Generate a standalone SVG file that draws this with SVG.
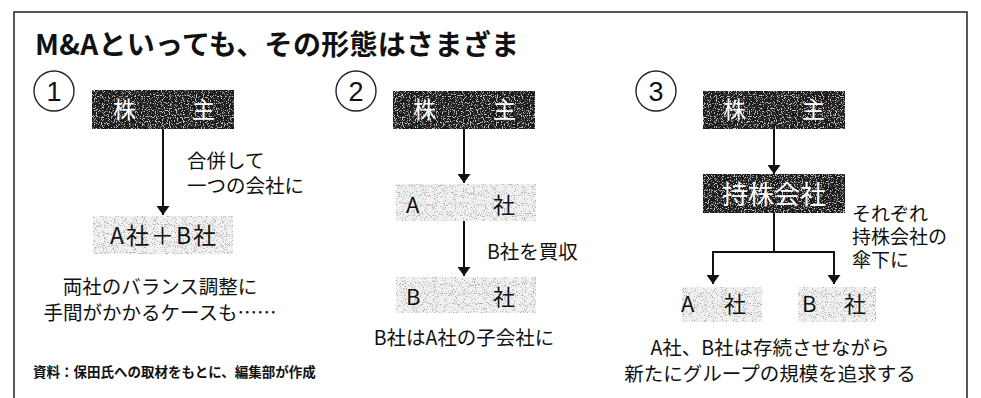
<svg xmlns="http://www.w3.org/2000/svg" width="981" height="398" viewBox="0 0 981 398">
<defs>
<style>
text{font-family:"Noto Sans CJK JP","Noto Sans",sans-serif;fill:#111}
.t{font-size:28px;font-weight:700}
.lb{font-size:19.5px}
.sl{font-size:19px}
.nb{font-size:23px;fill:#fff}
.bx{font-size:22px}
.note{font-size:13.5px;font-weight:700}
.num{font-family:"Liberation Sans",sans-serif;font-size:27px}
.dark{fill:#1b1b1b}
.light{fill:#f1f1f1}
.ln{stroke:#111;stroke-width:2;fill:none}
</style>
<filter id="speckD" x="0" y="0" width="1" height="1">
<feTurbulence type="fractalNoise" baseFrequency="0.85" numOctaves="1" seed="4" result="n"/>
<feColorMatrix in="n" type="matrix" values="0 0 0 0 0.55 0 0 0 0 0.55 0 0 0 0 0.55 -9 0 0 0 4.2" result="d"/>
<feComposite in="d" in2="SourceGraphic" operator="in"/>
</filter>
<filter id="speckL" x="0" y="0" width="1" height="1">
<feTurbulence type="fractalNoise" baseFrequency="0.9" numOctaves="1" seed="7" result="n"/>
<feColorMatrix in="n" type="matrix" values="0 0 0 0 0.4 0 0 0 0 0.4 0 0 0 0 0.4 -9 0 0 0 3.9" result="d"/>
<feComposite in="d" in2="SourceGraphic" operator="in"/>
</filter>
<marker id="ah" viewBox="0 0 9 13" refX="9" refY="6.5" markerWidth="9" markerHeight="13" markerUnits="userSpaceOnUse" orient="auto">
<path d="M0,0 L9,6.5 L0,13 Z" fill="#111"/>
</marker>
</defs>
<rect width="981" height="398" fill="#fff"/>
<path d="M14,398 V12 H967 V398" fill="none" stroke="#222" stroke-width="1.5"/>
<text class="t" x="35" y="55" textLength="484" lengthAdjust="spacing">M&amp;Aといっても、その形態はさまざま</text>

<g id="connectors">
<line class="ln" x1="163" y1="129" x2="163" y2="215" marker-end="url(#ah)"/>
<line class="ln" x1="464" y1="129" x2="464" y2="183" marker-end="url(#ah)"/>
<line class="ln" x1="464" y1="220" x2="464" y2="276" marker-end="url(#ah)"/>
<line class="ln" x1="774" y1="129" x2="774" y2="174" marker-end="url(#ah)"/>
<path class="ln" d="M774,213 V252 M713,252 H834"/>
<line class="ln" x1="713" y1="251" x2="713" y2="284" marker-end="url(#ah)"/>
<line class="ln" x1="834" y1="251" x2="834" y2="284" marker-end="url(#ah)"/>
</g>

<g id="num1"><circle cx="54" cy="91" r="20" fill="none" stroke="#222" stroke-width="1.4"/><text class="num" x="54" y="101" text-anchor="middle">1</text></g>
<g id="num2"><circle cx="356" cy="91" r="20" fill="none" stroke="#222" stroke-width="1.4"/><text class="num" x="356" y="101" text-anchor="middle">2</text></g>
<g id="num3"><circle cx="656" cy="91" r="20" fill="none" stroke="#222" stroke-width="1.4"/><text class="num" x="656" y="101" text-anchor="middle">3</text></g>

<g id="p1-shareholder">
<rect class="dark" x="92" y="90" width="142" height="39"/>
<rect x="92" y="90" width="142" height="39" fill="#fff" filter="url(#speckD)"/>
<text class="nb" x="113" y="118">株</text><text class="nb" x="192" y="118">主</text>
</g>
<g id="p1-label"><text class="lb" x="187" y="168">合併して</text><text class="lb" x="187" y="193">一つの会社に</text></g>
<g id="p1-merged">
<rect class="light" x="93" y="216" width="140" height="38"/>
<rect x="93" y="216" width="140" height="38" fill="#fff" filter="url(#speckL)"/>
<text class="bx" x="164" y="244" text-anchor="middle" letter-spacing="2" style="font-size:23px">A社＋B社</text>
</g>
<g id="p1-note"><text class="lb" x="160" y="294" text-anchor="middle">両社のバランス調整に</text><text class="lb" x="160" y="320" text-anchor="middle">手間がかかるケースも……</text></g>
<text class="note" x="33" y="377">資料：保田氏への取材をもとに、編集部が作成</text>

<g id="p2-shareholder">
<rect class="dark" x="393" y="91" width="142" height="38"/>
<rect x="393" y="91" width="142" height="38" fill="#fff" filter="url(#speckD)"/>
<text class="nb" x="413" y="118">株</text><text class="nb" x="493" y="118">主</text>
</g>
<g id="p2-a">
<rect class="light" x="396" y="184" width="140" height="37"/>
<rect x="396" y="184" width="140" height="37" fill="#fff" filter="url(#speckL)"/>
<text class="bx" x="406" y="213">A</text><text class="bx" x="493" y="213">社</text>
</g>
<g id="p2-label"><text class="lb" x="487" y="259">B社を買収</text></g>
<g id="p2-b">
<rect class="light" x="396" y="277" width="140" height="36"/>
<rect x="396" y="277" width="140" height="36" fill="#fff" filter="url(#speckL)"/>
<text class="bx" x="406" y="305">B</text><text class="bx" x="493" y="305">社</text>
</g>
<g id="p2-note"><text class="lb" x="464" y="345" text-anchor="middle">B社はA社の子会社に</text></g>

<g id="p3-shareholder">
<rect class="dark" x="703" y="91" width="142" height="38"/>
<rect x="703" y="91" width="142" height="38" fill="#fff" filter="url(#speckD)"/>
<text class="nb" x="723" y="118">株</text><text class="nb" x="802" y="118">主</text>
</g>
<g id="p3-holding">
<rect class="dark" x="703" y="174" width="142" height="39"/>
<rect x="703" y="174" width="142" height="39" fill="#fff" filter="url(#speckD)"/>
<text class="nb" x="774" y="204" text-anchor="middle" style="font-size:26px">持株会社</text>
</g>
<g id="p3-label"><text class="sl" x="852" y="221">それぞれ</text><text class="sl" x="852" y="244">持株会社の</text><text class="sl" x="852" y="267">傘下に</text></g>
<g id="p3-a">
<rect class="light" x="682" y="287" width="80" height="35"/>
<rect x="682" y="287" width="80" height="35" fill="#fff" filter="url(#speckL)"/>
<text class="bx" x="681" y="312">A</text><text class="bx" x="724" y="312">社</text>
</g>
<g id="p3-b">
<rect class="light" x="798" y="287" width="78" height="35"/>
<rect x="798" y="287" width="78" height="35" fill="#fff" filter="url(#speckL)"/>
<text class="bx" x="802" y="312">B</text><text class="bx" x="844" y="312">社</text>
</g>
<g id="p3-note"><text class="lb" x="770" y="355" text-anchor="middle">A社、B社は存続させながら</text><text class="lb" x="770" y="381" text-anchor="middle">新たにグループの規模を追求する</text></g>
</svg>
